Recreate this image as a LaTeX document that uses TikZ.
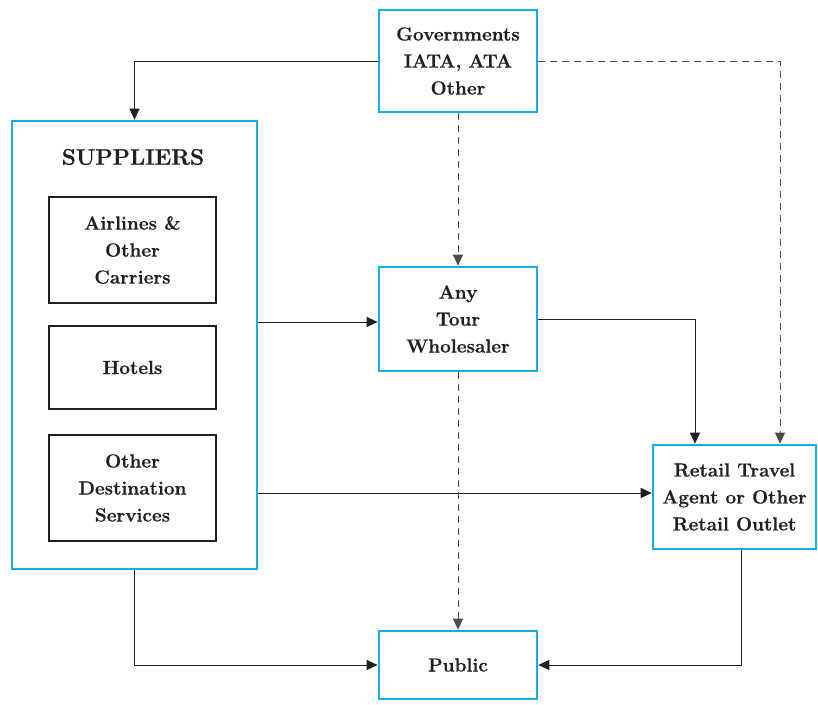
\documentclass[tikz,border=0pt]{standalone}
\usepackage{fontspec}
\setmainfont{Latin Modern Roman}[BoldFeatures={FakeBold=0.6}]
\usetikzlibrary{arrows.meta}
\definecolor{boxblue}{HTML}{12AEEA}
\definecolor{ink}{HTML}{231F20}
\tikzset{
  x=1pt, y=-1pt,
  bluebox/.style={draw=boxblue, line width=2.6pt, align=center, inner sep=2pt,
    font=\fontsize{19}{27}\selectfont\bfseries, text=ink},
  innerbox/.style={draw=ink, line width=1.1pt, align=center, inner sep=2pt, minimum width=167pt,
    font=\fontsize{19}{27}\selectfont\bfseries, text=ink},
  conn/.style={draw=ink, line width=1pt, -{Triangle[length=11pt,width=10pt]}},
  dconn/.style={conn, dash pattern=on 7pt off 5pt, draw=ink!80},
}
\begin{document}
\begin{tikzpicture}
\useasboundingbox (0,0) rectangle (818,704);
\node[bluebox, minimum width=158pt, minimum height=102pt] (gov) at (458,61) {Governments\\IATA, ATA\\Other};
\node[bluebox, minimum width=245pt, minimum height=448pt] (sup) at (134.5,345) {};
\node[text=ink, font=\fontsize{22.5}{26}\selectfont\bfseries] (suptitle) at (133,157) {SUPPLIERS};
\node[innerbox, minimum height=106pt] (air) at (132.5,250) {Airlines \&\\Other\\Carriers};
\node[innerbox, minimum height=83pt] (hot) at (132.5,367.5) {Hotels};
\node[innerbox, minimum height=106pt] (dest) at (132.5,488) {Other\\Destination\\Services};
\node[bluebox, minimum width=158pt, minimum height=104pt] (tour) at (458,319) {Any\\Tour\\Wholesaler};
\node[bluebox, minimum width=163pt, minimum height=104pt] (retail) at (734.5,497) {Retail Travel\\Agent or Other\\Retail Outlet};
\node[bluebox, minimum width=158pt, minimum height=68pt] (pub) at (458,665) {Public};

\coordinate (rA) at ([xshift=-39.5pt]retail.north);
\coordinate (rB) at ([xshift=45.5pt]retail.north);
\coordinate (rC) at ([xshift=6.5pt]retail.south);
\coordinate (tIn) at ([yshift=-3pt]tour.west);
\coordinate (rIn) at ([yshift=4pt]retail.west);

\draw[conn] (gov.west) -| (sup.north);
\draw[dconn] (gov.east) -| (rB);
\draw[dconn] (gov.south) -- (tour.north);
\draw[conn] (sup.east |- tIn) -- (tIn);
\draw[conn] (tour.east) -| (rA);
\draw[conn] (sup.east |- rIn) -- (rIn);
\draw[dconn] (tour.south) -- (pub.north);
\draw[conn] (sup.south) |- (pub.west);
\draw[conn] (rC) |- (pub.east);
\end{tikzpicture}
\end{document}
